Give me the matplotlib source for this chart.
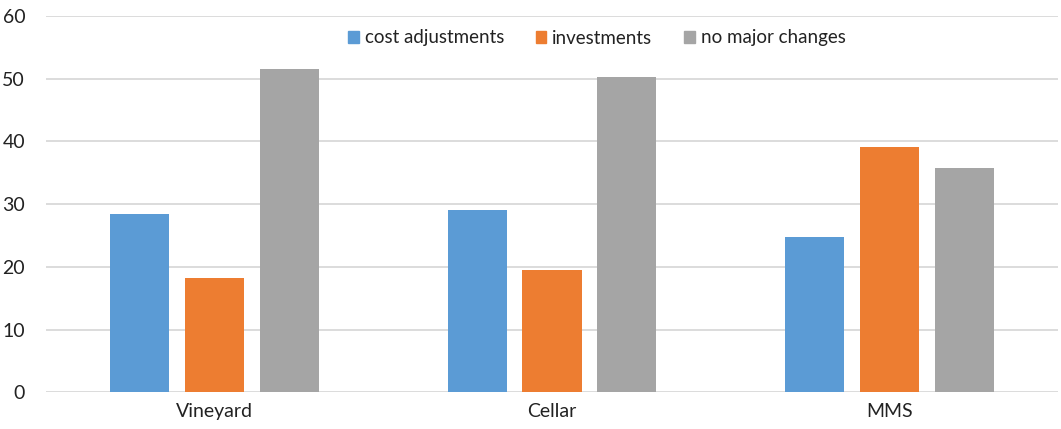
import matplotlib
matplotlib.use("Agg")
import matplotlib.pyplot as plt
import numpy as np
from matplotlib.patches import Patch

categories = ["Vineyard", "Cellar", "MMS"]
series_names = ["cost adjustments", "investments", "no major changes"]
cost_adjustments = [28.4, 29.1, 24.7]
investments = [18.3, 19.5, 39.1]
no_major_changes = [51.6, 50.3, 35.7]
y_ticks = [0, 10, 20, 30, 40, 50, 60]

colors = ["#5B9BD5", "#ED7D31", "#A5A5A5"]

plt.rcParams['font.family'] = ['Lato', 'DejaVu Sans']

fig = plt.figure(figsize=(10.61, 4.29), dpi=100)
ax = fig.add_axes([46/1061, 36.7/429, (1058-46)/1061, (392.3-16)/429])

x = np.arange(len(categories))
width = 0.175
step = 0.222
for i, (vals, name) in enumerate(zip([cost_adjustments, investments, no_major_changes], series_names)):
    ax.bar(x + (i - 1) * step, vals, width=width, color=colors[i], label=name, zorder=3)

ax.set_xlim(-0.5, len(categories) - 0.5)
ax.set_ylim(0, 60)
ax.set_yticks(y_ticks)
ax.set_xticks(x)
ax.set_xticklabels(categories)
ax.tick_params(axis='both', length=0, labelsize=14, colors='#222222')
ax.tick_params(axis='y', pad=15)
ax.tick_params(axis='x', pad=8)
ax.grid(axis='y', color='#D9D9D9', linewidth=1.3, zorder=0)
for s in ax.spines.values():
    s.set_visible(False)

handles = [Patch(color=c) for c in colors]
fig.legend(handles, series_names, loc='center', bbox_to_anchor=(597/1061, 1 - 38/429),
           ncol=3, frameon=False, fontsize=13.5, handlelength=0.55, handleheight=0.55,
           handletextpad=0.32, columnspacing=1.7, labelcolor='#222222')

fig.savefig("out.png", dpi=100, facecolor='white')
